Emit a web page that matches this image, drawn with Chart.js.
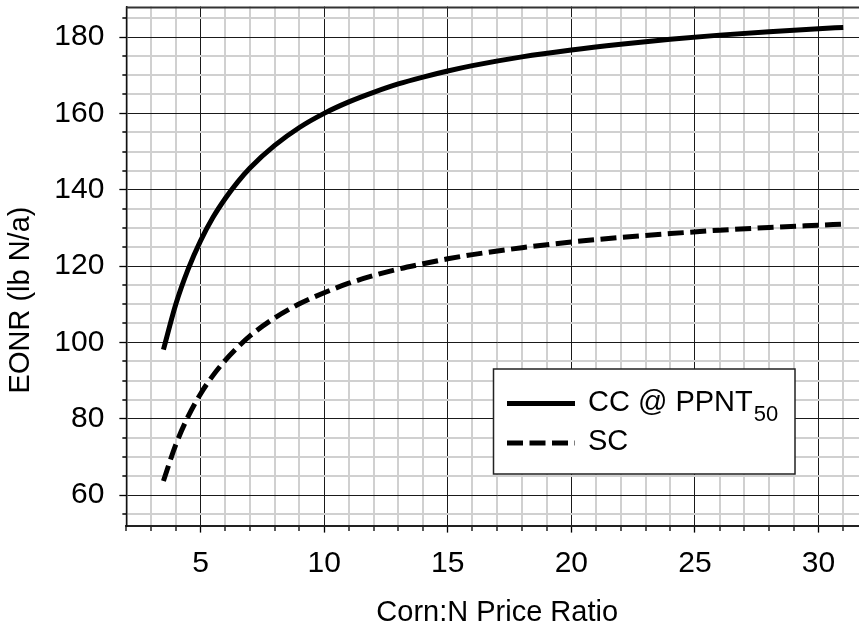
<!DOCTYPE html>
<html>
<head>
<meta charset="utf-8">
<script src="https://cdn.jsdelivr.net/npm/chart.js@4/dist/chart.umd.min.js"></script>
<style>
html,body{margin:0;padding:0;background:#fff;overflow:hidden}
canvas{display:block}
</style>
</head>
<body>
<canvas id="c" width="868" height="630" style="width:868px;height:630px"></canvas>
<script>
// ---- data ----
const priceRatio = [3.5, 4, 4.5, 5, 5.5, 6, 6.5, 7, 8, 9, 10, 11, 12, 13, 14, 15, 16, 18, 20, 22, 24, 26, 28, 30, 31];
const eonrCC = [98.1, 110.0, 119.2, 126.6, 132.7, 137.7, 142.0, 145.7, 151.6, 156.3, 160.0, 163.0, 165.5, 167.7, 169.5, 171.1, 172.5, 174.8, 176.6, 178.1, 179.4, 180.5, 181.4, 182.2, 182.5];
const eonrSC = [63.7, 73.2, 80.6, 86.5, 91.3, 95.3, 98.7, 101.7, 106.4, 110.1, 113.0, 115.5, 117.5, 119.2, 120.6, 121.9, 123.0, 124.8, 126.3, 127.5, 128.5, 129.4, 130.1, 130.7, 131.0];

const seriesNames = ['CC @ PPNT', 'SC'];
const seriesSubscripts = ['50', ''];

const xTickValues = [2, 3, 4, 5, 6, 7, 8, 9, 10, 11, 12, 13, 14, 15, 16, 17, 18, 19, 20, 21, 22, 23, 24, 25, 26, 27, 28, 29, 30, 31, 32];
const xTickLabels = [5, 10, 15, 20, 25, 30];
const yTickValues = [55, 60, 65, 70, 75, 80, 85, 90, 95, 100, 105, 110, 115, 120, 125, 130, 135, 140, 145, 150, 155, 160, 165, 170, 175, 180, 185];
const yTickLabels = [60, 80, 100, 120, 140, 160, 180];

const xTitle = 'Corn:N Price Ratio';
const yTitle = 'EONR (lb N/a)';

// ---- styling ----
const FONT = "'Liberation Sans', Arial, sans-serif";
const majorX = v => xTickLabels.includes(v);
const majorY = v => yTickLabels.includes(v);

const extrasPlugin = {
  id: 'extras',
  beforeDatasetsDraw(chart) {
    const {ctx, chartArea: a} = chart;
    ctx.save();
    ctx.strokeStyle = '#333';
    ctx.lineWidth = 2;
    ctx.beginPath();
    ctx.moveTo(a.left, a.top + 1);
    ctx.lineTo(a.right, a.top + 1);
    ctx.stroke();
    ctx.restore();
  },
  afterDraw(chart) {
    const {ctx} = chart;
    ctx.save();
    // y axis title
    ctx.fillStyle = '#000';
    ctx.font = '29px ' + FONT;
    ctx.textAlign = 'center';
    ctx.textBaseline = 'middle';
    ctx.translate(21, 300);
    ctx.rotate(-Math.PI / 2);
    ctx.fillText(yTitle, 0, 0);
    ctx.restore();

    // legend box
    ctx.save();
    const bx = 493.5, by = 369, bw = 301.5, bh = 105;
    ctx.fillStyle = '#fff';
    ctx.fillRect(bx, by, bw, bh);
    ctx.strokeStyle = '#222';
    ctx.lineWidth = 1.5;
    ctx.strokeRect(bx, by, bw, bh);
    const rows = [403.5, 443];
    chart.data.datasets.forEach((ds, i) => {
      const y = rows[i];
      ctx.strokeStyle = '#000';
      ctx.lineWidth = 5;
      ctx.lineCap = 'butt';
      ctx.setLineDash(ds.borderDash || []);
      ctx.beginPath();
      ctx.moveTo(507, y);
      ctx.lineTo(575, y);
      ctx.stroke();
      ctx.setLineDash([]);
      ctx.fillStyle = '#000';
      ctx.textAlign = 'left';
      ctx.textBaseline = 'alphabetic';
      ctx.font = '29px ' + FONT;
      const base = y + 7;
      ctx.fillText(seriesNames[i], 588, base);
      if (seriesSubscripts[i]) {
        const w = ctx.measureText(seriesNames[i]).width;
        ctx.font = '22px ' + FONT;
        ctx.fillText(seriesSubscripts[i], 588 + w + 1, base + 10);
      }
    });
    ctx.restore();
  }
};

new Chart(document.getElementById('c'), {
  type: 'line',
  data: {
    datasets: [
      {
        label: seriesNames[0] + seriesSubscripts[0],
        data: priceRatio.map((x, i) => ({x: x, y: eonrCC[i]})),
        borderColor: '#000',
        borderWidth: 5,
        pointRadius: 0,
        fill: false,
        cubicInterpolationMode: 'monotone'
      },
      {
        label: seriesNames[1],
        data: priceRatio.map((x, i) => ({x: x, y: eonrSC[i]})),
        borderColor: '#000',
        borderWidth: 5,
        borderDash: [16, 6.5],
        pointRadius: 0,
        fill: false,
        cubicInterpolationMode: 'monotone'
      }
    ]
  },
  options: {
    responsive: false,
    animation: false,
    devicePixelRatio: 1,
    layout: {padding: {left: 39.3, top: 6.5, right: 0, bottom: 0}},
    plugins: {legend: {display: false}, tooltip: {enabled: false}},
    scales: {
      x: {
        type: 'linear',
        min: 2,
        max: 32,
        afterBuildTicks: s => { s.ticks = xTickValues.map(v => ({value: v})); },
        afterFit: s => { s.paddingLeft = 0; s.paddingRight = 0; },
        ticks: {
          autoSkip: false,
          maxRotation: 0,
          padding: 13,
          color: '#000',
          font: {family: FONT, size: 30},
          callback: v => majorX(v) ? String(v) : ''
        },
        grid: {
          color: c => majorX(c.tick.value) ? '#1a1a1a' : '#d0d0d0',
          lineWidth: c => majorX(c.tick.value) ? 1 : 2,
          tickLength: 7,
          tickColor: '#000',
          tickWidth: 1.3,
          tickBorderDash: c => majorX(c.tick.value) ? [] : [4, 100]
        },
        border: {color: '#222', width: 2},
        title: {
          display: true,
          text: xTitle,
          color: '#000',
          font: {family: FONT, size: 29},
          padding: {top: 0.6, bottom: 0}
        }
      },
      y: {
        type: 'linear',
        min: 52,
        max: 188,
        afterBuildTicks: s => { s.ticks = yTickValues.map(v => ({value: v})); },
        afterFit: s => { s.paddingTop = 0; s.paddingBottom = 0; },
        ticks: {
          autoSkip: false,
          padding: 15,
          color: '#000',
          font: {family: FONT, size: 30},
          callback: v => majorY(v) ? String(v) : ''
        },
        grid: {
          color: c => majorY(c.tick.value) ? '#1a1a1a' : '#d0d0d0',
          lineWidth: c => majorY(c.tick.value) ? 1 : 2,
          tickLength: 7,
          tickColor: '#000',
          tickWidth: 1.3,
          tickBorderDash: c => majorY(c.tick.value) ? [] : [0, 3, 4, 100]
        },
        border: {color: '#111', width: 1.5}
      }
    }
  },
  plugins: [extrasPlugin]
});
</script>
</body>
</html>
